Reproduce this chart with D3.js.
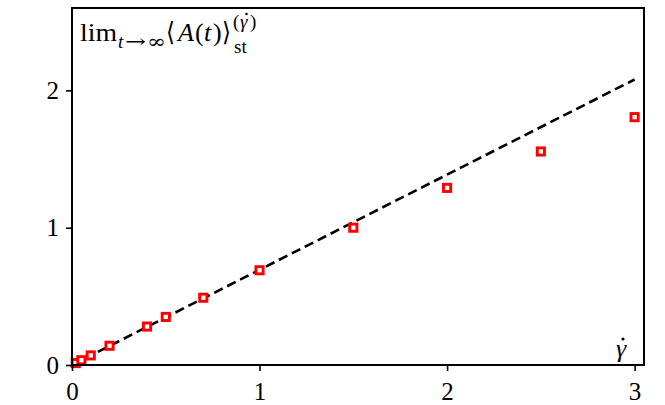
<!DOCTYPE html>
<html><head><meta charset="utf-8">
<script src="https://cdn.jsdelivr.net/npm/d3@7"></script>
<style>body{margin:0;background:#fff;} svg{display:block;} text{font-family:"Liberation Serif","DejaVu Serif",serif;}</style>
</head><body>
<svg id="chart" width="665" height="405"></svg>
<script>
const gammaDot = [0.02, 0.05, 0.1, 0.2, 0.4, 0.5, 0.7, 1.0, 1.5, 2.0, 2.5, 3.0];
const limA     = [0.014, 0.035, 0.07, 0.14, 0.28, 0.35, 0.49, 0.69, 1.0, 1.29, 1.555, 1.805];
const lineX = [0, 3];
const slope = Math.LN2;
const xTicks = [0, 1, 2, 3];
const yTicks = [0, 1, 2];

const svg = d3.select("#chart");
const m = {l: 72, r: 644, t: 8, b: 365};
const x = d3.scaleLinear().domain([0, 3.05]).range([m.l, m.r]);
const y = d3.scaleLinear().domain([0, 2.6]).range([m.b, m.t]);

// dashed line
svg.append("path")
  .datum(lineX)
  .attr("d", d3.line().x(d => x(d)).y(d => y(slope * d)))
  .attr("fill", "none").attr("stroke", "#000").attr("stroke-width", 2.6)
  .attr("stroke-dasharray", "9.5,5");

// markers
svg.append("g").selectAll("rect").data(gammaDot).join("rect")
  .attr("x", (d) => x(d) - 3.6).attr("y", (d, i) => y(limA[i]) - 3.6)
  .attr("width", 7.2).attr("height", 7.2)
  .attr("fill", "#fff").attr("stroke", "#ff0000").attr("stroke-width", 2.9);

// axes
const xa = svg.append("g").attr("transform", `translate(0,${m.b})`)
  .call(d3.axisBottom(x).tickValues(xTicks).tickFormat(d3.format("d")).tickSize(6).tickPadding(6));
const ya = svg.append("g").attr("transform", `translate(${m.l},0)`)
  .call(d3.axisLeft(y).tickValues(yTicks).tickFormat(d3.format("d")).tickSize(6).tickPadding(7));
[xa, ya].forEach(a => {
  a.attr("font-size", 25);
  a.select(".domain").remove();
  a.selectAll("line").attr("stroke", "#000").attr("stroke-width", 1.6);
  a.selectAll("text").attr("fill", "#000").attr("font-size", 25);
});
xa.selectAll("text").attr("dy", "0.92em");
ya.selectAll("text").attr("dy", "0.33em");

// frame
svg.append("rect").attr("x", m.l).attr("y", m.t).attr("width", m.r - m.l).attr("height", m.b - m.t)
  .attr("fill", "none").attr("stroke", "#000").attr("stroke-width", 2);

// y label, piece by piece
const L = svg.append("g").attr("fill", "#000");
function piece(txt, px, py, size, opts = {}) {
  const t = L.append("text").attr("x", px).attr("y", py).attr("font-size", size).text(txt);
  if (opts.italic) t.attr("font-style", "italic");
  if (opts.len) t.attr("textLength", opts.len).attr("lengthAdjust", "spacingAndGlyphs");
  if (opts.family) t.style("font-family", opts.family);
  return t;
}
const base = 41, subBase = 48;
piece("lim", 80, base, 26, {len: 37});
piece("t", 118, subBase, 19, {italic: true});
piece("→", 125, subBase, 19, {len: 21, family: "DejaVu Serif"});
piece("∞", 147, subBase, 19, {len: 19, family: "DejaVu Serif"});
piece("⟨", 166, base, 26, {len: 9, family: "DejaVu Serif"});
piece("A", 178, base, 26, {italic: true});
piece("(", 195, base, 26);
piece("t", 204, base, 26, {italic: true});
piece(")", 213, base, 26);
piece("⟩", 222, base, 26, {len: 9, family: "DejaVu Serif"});
piece("st", 234, 53, 19);
piece("(", 233, 28, 19);
piece("γ", 240, 28, 19, {italic: true});
piece(")", 250, 28, 19);
L.append("circle").attr("cx", 246.5).attr("cy", 14).attr("r", 1.3);

// x label
svg.append("text").attr("x", 621).attr("y", 357).attr("text-anchor", "middle")
  .attr("font-size", 26).attr("font-style", "italic").text("γ");
svg.append("circle").attr("cx", 623).attr("cy", 339).attr("r", 1.6).attr("fill", "#000");
</script>
</body></html>
